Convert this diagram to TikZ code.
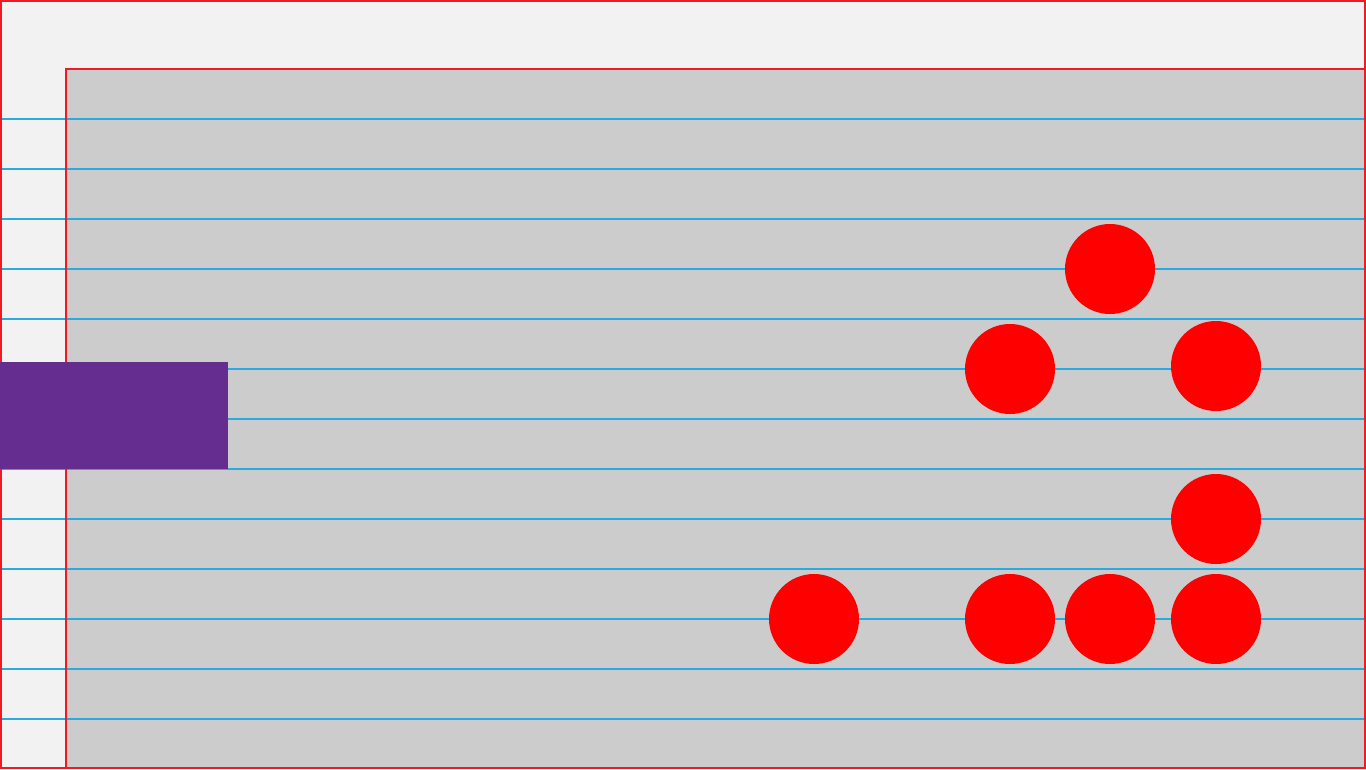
\documentclass[tikz,border=0pt]{standalone}
\usepackage{xcolor}
\usepackage{tikz}
\definecolor{gridred}{HTML}{ED1C24}
\definecolor{gridblue}{HTML}{29ABE2}
\definecolor{blockpurple}{HTML}{662D91}
\definecolor{paperbg}{HTML}{F2F2F2}
\definecolor{fieldgray}{HTML}{CCCCCC}
\definecolor{dotred}{HTML}{FF0000}

\begin{document}
\begin{tikzpicture}[x=0.75pt,y=-0.75pt,line width=1.5pt]
  % page and playing field
  \fill[paperbg] (0,0) rectangle (1366,769);
  \useasboundingbox (0,0) rectangle (1366,769);
  \fill[fieldgray] (66,69) rectangle (1366,769);
  \foreach \y in {119,169,...,719} {
    \draw[gridblue] (0,\y) -- (1366,\y);
  }
  \draw[gridred] (66,769) -- (66,69) -- (1366,69);
  \draw[gridred] (1,1) rectangle (1365,768);
  % block on the left
  \fill[blockpurple] (0,362) rectangle (228,468.5);
  % dots
  \foreach \n/\x/\y in {a/1110/269,b/1010/369,c/1216/366,d/1216/519,e/814/619,f/1010/619,g/1110/619,h/1216/619} {
    \node[circle,fill=dotred,inner sep=0pt,minimum size=90*0.75pt] (dot\n) at (\x,\y) {};
  }
\end{tikzpicture}
\end{document}
